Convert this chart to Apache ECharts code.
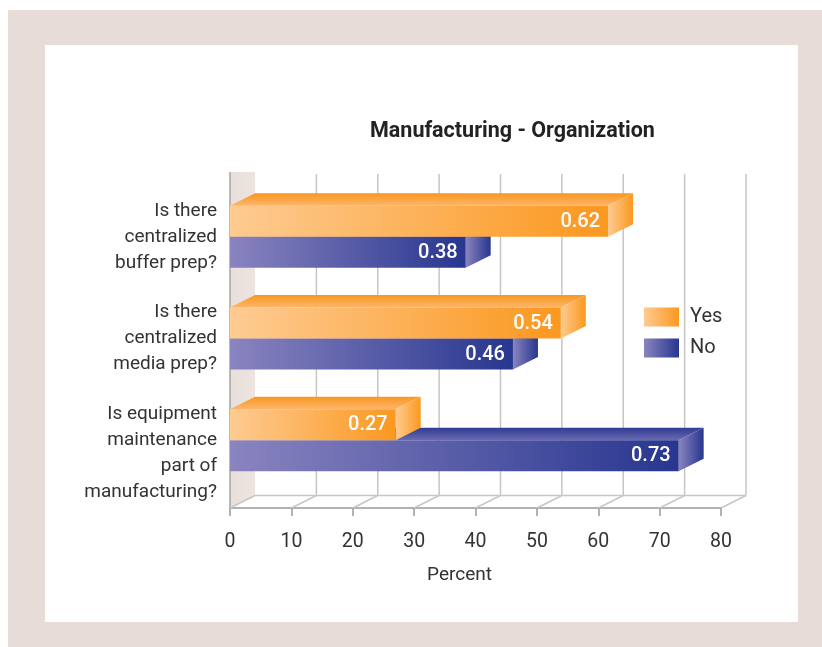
<!DOCTYPE html>
<html><head><meta charset="utf-8">
<style>html,body{margin:0;padding:0;background:#fff}#c{width:822px;height:647px}</style>
<script src="https://cdn.jsdelivr.net/npm/echarts@6/dist/echarts.min.js"></script>
</head><body><div id="c"></div>
<script>
const categories = ["Is there\ncentralized\nbuffer prep?", "Is there\ncentralized\nmedia prep?", "\nIs equipment\nmaintenance\npart of\nmanufacturing?"];
const yesValues = [61.6, 53.9, 27];
const noValues = [38.4, 46.1, 73.1];
const yesLabels = ["0.62", "0.54", "0.27"];
const noLabels = ["0.38", "0.46", "0.73"];
const xTicks = [0, 10, 20, 30, 40, 50, 60, 70, 80];
const FONT = 'Roboto';
const DX = 25, DY = 12.5, FLOOR = 17, WALL_TOP = 172, GRID_TOP = 186, GRID_H = 305, BAR_H = 31;
const GL = '#c6c6c6';

const lg = (a, b, h) => new echarts.graphic.LinearGradient(0, 0, h ? 1 : 0, h ? 0 : 1, [{offset:0,color:a},{offset:1,color:b}]);
const PAL = {
  yes: {l:'#fecb92', r:'#fb981f', top0:'#f9971f', top1:'#fdb56c'},
  no:  {l:'#8a84c0', r:'#27368f', top0:'#2f3a94', top1:'#6a6ab0'}
};

function barItem(key, offset, labels) {
  return function (params, api) {
    const v = api.value(0), cat = api.value(1);
    const p0 = api.coord([0, cat]), p1 = api.coord([v, cat]);
    const x0 = p0[0], x1 = p1[0];
    const yT = offset < 0 ? p0[1] - BAR_H : p0[1];
    const yB = yT + BAR_H;
    const c = PAL[key];
    return {type:'group', children:[
      {type:'polygon', shape:{points:[[x0,yT],[x0+DX,yT-DY],[x1+DX,yT-DY],[x1,yT]]}, style:{fill:lg(c.top0,c.top1,false)}},
      {type:'polygon', shape:{points:[[x1,yT],[x1+DX,yT-DY],[x1+DX,yB-DY],[x1,yB]]}, style:{fill:lg(c.l,c.r,true)}},
      {type:'rect', shape:{x:x0,y:yT,width:x1-x0,height:BAR_H}, style:{fill:lg(c.l,c.r,true)}},
      {type:'text', x:x1-8, y:yT+BAR_H/2+0.5, style:{text:labels[params.dataIndex], fill:'#fff', align:'right', verticalAlign:'middle', font:'500 20px '+FONT}}
    ]};
  };
}

function wallItem(params, api) {
  const tick = api.value(0);
  const x = api.coord([tick, 0])[0];
  const cs = params.coordSys;
  const yFront = cs.y + cs.height + FLOOR, yBack = yFront - DY;
  const line = (a,b,c,d,col,w) => ({type:'line', shape:{x1:a,y1:b,x2:c,y2:d}, style:{stroke:col, lineWidth:w||1.5}});
  const ch = [];
  if (tick === 0) {
    ch.push({type:'polygon', shape:{points:[[x,WALL_TOP],[x+DX,WALL_TOP],[x+DX,yBack],[x,yFront]]}, style:{fill:lg('#e9dfda','#ebe4e0',true)}});
    ch.push(line(x,WALL_TOP,x,yFront,'#a9a9a9',1.6));
    ch.push(line(x+DX,yBack,cs.x+cs.width+DX,yBack,GL));
    ch.push(line(x,yFront,x+DX,yBack,GL));
  } else {
    ch.push(line(x+DX,WALL_TOP+2,x+DX,yBack,GL));
    ch.push(line(x+DX,yBack,x,yFront,GL));
  }
  return {type:'group', children:ch};
}

const chart = echarts.init(document.getElementById('c'), null, {renderer:'canvas'});
chart.setOption({
  animation:false,
  backgroundColor:'#fff',
  graphic:{elements:[
    {type:'rect', z:-10, silent:true, shape:{x:8,y:10,width:814,height:637}, style:{fill:'#e7dcd7'}},
    {type:'rect', z:-9, silent:true, shape:{x:45,y:45,width:753,height:577}, style:{fill:'#fff'}}
  ]},
  title:{text:'Manufacturing - Organization', left:365, top:116, textStyle:{fontFamily:FONT, fontWeight:'bold', fontSize:21.5, color:'#222'}},
  legend:{orient:'vertical', left:639, top:302, itemWidth:35, itemHeight:19, itemGap:11, icon:'rect', data:['Yes','No'],
    textStyle:{fontFamily:FONT, fontSize:20, color:'#333', padding:[3,0,0,6]}, selectedMode:false},
  grid:{left:230, top:GRID_TOP, width:491, height:GRID_H, containLabel:false},
  xAxis:{type:'value', min:0, max:80, interval:10, offset:FLOOR,
    name:'Percent', nameLocation:'middle', nameGap:58,
    nameTextStyle:{fontFamily:FONT, fontSize:19, color:'#333', padding:[0,32,0,0]},
    axisLine:{show:true, lineStyle:{color:'#999', width:1.5}},
    axisTick:{show:true, length:8, lineStyle:{color:'#999', width:1.5}},
    axisLabel:{fontFamily:FONT, fontSize:19.5, color:'#333', margin:24},
    splitLine:{show:false}},
  yAxis:{type:'category', inverse:true, data:categories,
    axisLine:{show:false}, axisTick:{show:false}, splitLine:{show:false},
    axisLabel:{fontFamily:FONT, fontSize:19, color:'#333', align:'right', lineHeight:26, margin:13, padding:[0,0,10,0], interval:0}},
  series:[
    {type:'custom', name:'Wall', z:1, silent:true, renderItem:wallItem, data:xTicks.map(t=>[t]), encode:{x:0}, tooltip:{show:false}},
    {type:'custom', name:'Yes', z:4, renderItem:barItem('yes',-1,yesLabels), itemStyle:{color:lg(PAL.yes.l,PAL.yes.r,true)},
      data:yesValues.map((v,i)=>[v,i]), encode:{x:0,y:1}},
    {type:'custom', name:'No', z:3, renderItem:barItem('no',1,noLabels), itemStyle:{color:lg(PAL.no.l,PAL.no.r,true)},
      data:noValues.map((v,i)=>[v,i]), encode:{x:0,y:1}}
  ]
});
</script></body></html>
